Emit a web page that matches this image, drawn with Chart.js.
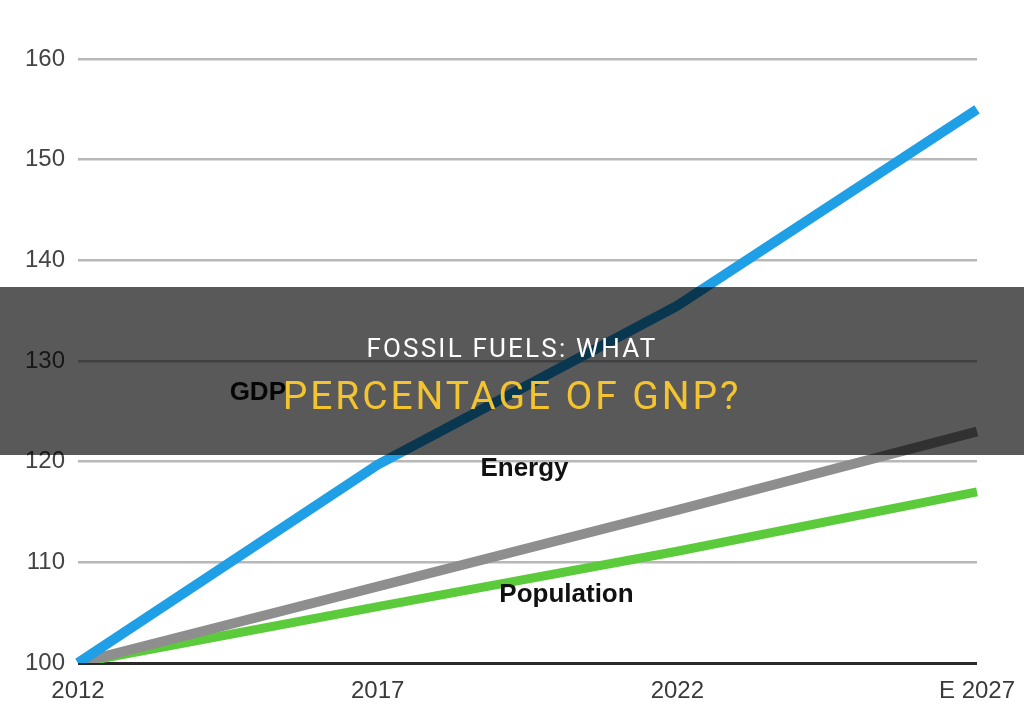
<!DOCTYPE html>
<html>
<head>
<meta charset="utf-8">
<script src="https://cdn.jsdelivr.net/npm/chart.js@4.4.1/dist/chart.umd.min.js"></script>
<style>
  html, body { margin: 0; padding: 0; background: #ffffff; }
  #wrap { position: relative; width: 1024px; height: 723px; overflow: hidden; }
  #c { position: absolute; left: 0; top: 0; }
  #band { position: absolute; left: 0; top: 287px; width: 1024px; height: 168px; background: rgba(0,0,0,0.65); }
  .t { position: absolute; left: 0; width: 1024px; text-align: center; font-family: Roboto, "Noto Sans", sans-serif; line-height: 1; white-space: nowrap; }
  #t1 { top: 335px; font-size: 26px; letter-spacing: 2.2px; color: #ffffff; }
  #t2 { top: 377px; font-size: 39px; letter-spacing: 2.9px; color: #f4c430; }
</style>
</head>
<body>
<div id="wrap">
  <canvas id="c" width="1024" height="723"></canvas>
  <div id="band"></div>
  <div class="t" id="t1">FOSSIL FUELS: WHAT</div>
  <div class="t" id="t2">PERCENTAGE OF GNP?</div>
</div>
<script>
const categories = ["2012", "2017", "2022", "E 2027"];
const gdp = [100, 119.7, 135.5, 155];
const energy = [100, 107.6, 115.2, 123];
const population = [100, 105.6, 111.1, 117];
const yTicks = [100, 110, 120, 130, 140, 150, 160];
const seriesNames = ["GDP", "Energy", "Population"];

const labelFont = 'bold 26px "Liberation Sans", Arial, sans-serif';
const seriesLabels = {
  id: 'seriesLabels',
  afterDatasetsDraw(chart) {
    const { ctx, scales } = chart;
    const spots = [
      { text: seriesNames[0], xi: 0.60, yv: 126.1 },
      { text: seriesNames[1], xi: 1.49, yv: 118.6 },
      { text: seriesNames[2], xi: 1.63, yv: 106.1 }
    ];
    ctx.save();
    ctx.font = labelFont;
    ctx.fillStyle = '#111111';
    ctx.textAlign = 'center';
    ctx.textBaseline = 'alphabetic';
    spots.forEach(s => {
      ctx.fillText(s.text, scales.x.getPixelForValue(s.xi), scales.y.getPixelForValue(s.yv));
    });
    ctx.restore();
  }
};

new Chart(document.getElementById('c'), {
  type: 'line',
  data: {
    labels: categories,
    datasets: [
      { label: seriesNames[0], data: gdp, borderColor: '#1e9fe6', borderWidth: 10 },
      { label: seriesNames[1], data: energy, borderColor: '#8e8e8e', borderWidth: 10 },
      { label: seriesNames[2], data: population, borderColor: '#5ccb3b', borderWidth: 9 }
    ]
  },
  options: {
    responsive: false,
    devicePixelRatio: 1,
    animation: false,
    layout: { padding: { top: 59, right: 47, bottom: 0, left: 0 } },
    elements: { point: { radius: 0, hoverRadius: 0 }, line: { tension: 0, fill: false } },
    plugins: { legend: { display: false }, tooltip: { enabled: false }, title: { display: false } },
    scales: {
      x: {
        type: 'category',
        offset: false,
        grid: { display: false, drawTicks: false },
        border: { display: false },
        ticks: {
          padding: 14,
          color: '#3a3a3a',
          font: { family: '"Liberation Sans", Arial, sans-serif', size: 24 },
          maxRotation: 0, autoSkip: false
        },
        afterFit(scale) { scale.height = 60; scale.paddingLeft = 0; scale.paddingRight = 0; }
      },
      y: {
        min: 100, max: 160,
        afterBuildTicks(scale) { scale.ticks = yTicks.map(v => ({ value: v })); },
        grid: {
          drawTicks: false,
          color: ctx => (ctx.tick && ctx.tick.value === 100) ? '#2a2a2a' : '#b8b8b8',
          lineWidth: ctx => (ctx.tick && ctx.tick.value === 100) ? 3 : 2.5
        },
        border: { display: false },
        ticks: {
          padding: 13,
          color: '#444444',
          font: { family: '"Liberation Sans", Arial, sans-serif', size: 24 }
        },
        afterFit(scale) { scale.width = 78; scale.paddingTop = 0; scale.paddingBottom = 0; }
      }
    }
  },
  plugins: [seriesLabels]
});
</script>
</body>
</html>
